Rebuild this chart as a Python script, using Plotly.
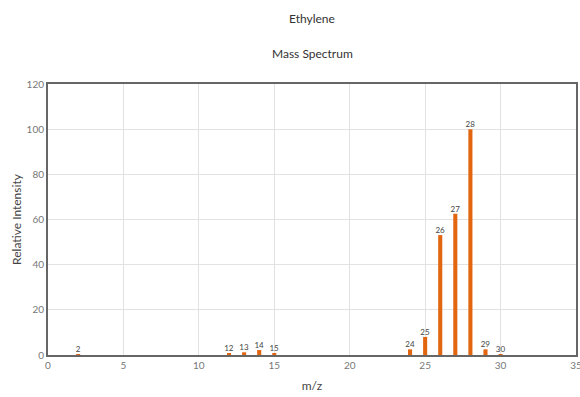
import plotly.graph_objects as go

mz = [2, 12, 13, 14, 15, 24, 25, 26, 27, 28, 29, 30]
intensity = [0.3, 0.8, 1.2, 2.2, 0.5, 2.5, 8.0, 53.1, 62.5, 100, 2.5, 0.3]
labels = [str(m) for m in mz]

font = "Lato"
fig = go.Figure(go.Bar(
    x=mz, y=intensity, width=0.27,
    marker=dict(color="#E2650F", line=dict(width=0)),
    text=labels, textposition="outside", cliponaxis=False,
    textangle=0, constraintext="none",
    textfont=dict(size=8, color="#444", family=font),
))

fig.update_layout(
    width=580, height=397,
    margin=dict(l=48, r=4, t=84, b=42, autoexpand=False),
    paper_bgcolor="white", plot_bgcolor="white",
    showlegend=False,
    font=dict(family=font, color="#333"),
    annotations=[
        dict(text="Ethylene", xref="paper", yref="paper", x=0.5, y=1, yshift=84 - 18, showarrow=False,
             font=dict(size=12, color="#333", family=font), xanchor="center", yanchor="middle"),
        dict(text="Mass Spectrum", xref="paper", yref="paper", x=0.5, y=1, yshift=84 - 53, showarrow=False,
             font=dict(size=12, color="#333", family=font), xanchor="center", yanchor="middle"),
    ],
    xaxis=dict(range=[0, 35], tickvals=[0, 5, 10, 15, 20, 25, 30, 35], automargin=False,
               ticklabeloverflow="allow",
               showgrid=True, gridcolor="#e2e2e2", gridwidth=1,
               showline=True, linecolor="#666", linewidth=2, mirror=True,
               zeroline=False, ticks="",
               tickfont=dict(size=10, color="#777", family=font),
               title=dict(text="m/z", font=dict(size=12, color="#444", family=font), standoff=12)),
    yaxis=dict(range=[0, 120], tickvals=[0, 20, 40, 60, 80, 100, 120], automargin=False,
               ticklabeloverflow="allow",
               showgrid=True, gridcolor="#e2e2e2", gridwidth=1,
               showline=True, linecolor="#666", linewidth=2, mirror=True,
               zeroline=False, ticks="",
               tickfont=dict(size=10, color="#777", family=font),
               title=dict(text="Relative Intensity", font=dict(size=12, color="#444", family=font), standoff=2)),
)

fig.write_html("out.html")
